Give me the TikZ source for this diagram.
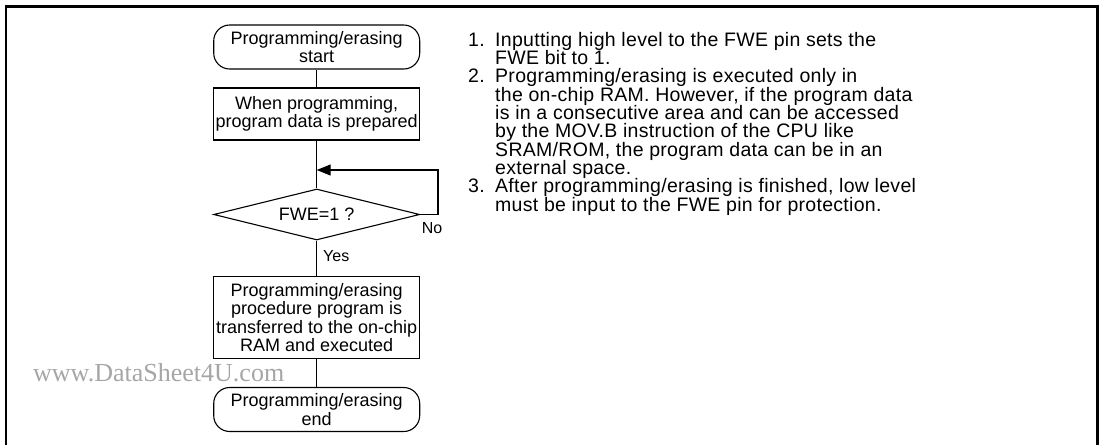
\documentclass[tikz,border=0pt]{standalone}
\usepackage{fontspec}
\setmainfont{Liberation Sans}
\newfontfamily\wmfont{Liberation Serif}
\newfontfamily\notefamily[LetterSpace=1.5]{Liberation Sans}
\usetikzlibrary{shapes.geometric,arrows.meta,positioning}

\newcommand\flowfont{\fontsize{18}{18.2}\selectfont}
\newcommand\notefont{\notefamily\fontsize{19.5}{18.3}\selectfont\lineskiplimit=-100pt}
\newcommand\itemno[1]{\makebox[27pt][l]{#1}}
\newcommand\itemgap{\hspace*{27pt}}

\begin{document}
\begin{tikzpicture}[x=1pt, y=-1pt,
    term/.style={rectangle, rounded corners=16pt, draw, line width=1.1pt, minimum width=206pt, minimum height=44pt, inner sep=0pt, align=center, font=\flowfont},
    proc/.style={rectangle, draw, line width=1.1pt, minimum width=206pt, inner sep=0pt, align=center, font=\flowfont},
    decide/.style={diamond, aspect=4, draw, line width=1.1pt, minimum width=206pt, minimum height=51pt, inner sep=0pt, font=\flowfont},
    flow/.style={line width=1.1pt},
    loopback/.style={line width=1.1pt, -{Triangle[length=14pt, width=11pt]}},
    lbl/.style={inner sep=0pt, font=\fontsize{16}{16}\selectfont},
]
\useasboundingbox (0,0) rectangle (1102,445);

% frame
\draw[line width=2.6pt] (6,445) -- (6,6.5) -- (1097.5,6.5) -- (1097.5,445);

% flowchart
\node[term] (START) at (316.7,47) {Programming/erasing\\start};
\node[proc, minimum height=52pt] (PREP) at (316.7,114) {When programming,\\program data is prepared};
\node[decide] (FWE) at (316.7,214.5) {FWE=1 ?};
\node[proc, minimum height=82pt] (EXEC) at (316.7,317.5) {Programming/erasing\\procedure program is\\transferred to the on-chip\\RAM and executed};
\node[term] (END) at (316.7,409.5) {Programming/erasing\\end};

\coordinate (MERGE) at (316.7,170);
\coordinate (TURN) at (438,214.5);

\draw[flow] (START) -- (PREP);
\draw[flow] (PREP) -- (FWE);
\draw[flow] (FWE) -- (EXEC);
\draw[flow] (EXEC) -- (END);
\draw[loopback] (FWE.east) -- (TURN) |- (MERGE);

\node[lbl] (NO) at (432,228.5) {No};
\node[lbl, anchor=west] (YES) at (323,256) {Yes};

% watermark
\node[anchor=base west, inner sep=0pt, text=black!35, font=\wmfont\fontsize{26}{26}\selectfont] (MARK) at (33,381) {www.DataSheet4U.com};

% notes
\node[anchor=north west, inner sep=0pt, align=left, font=\notefont] (NOTES) at (468,32) {%
\itemno{1.}Inputting high level to the FWE pin sets the\\
\itemgap FWE bit to 1.\\
\itemno{2.}Programming/erasing is executed only in\\
\itemgap the on-chip RAM. However, if the program data\\
\itemgap is in a consecutive area and can be accessed\\
\itemgap by the MOV.B instruction of the CPU like\\
\itemgap SRAM/ROM, the program data can be in an\\
\itemgap external space.\\
\itemno{3.}After programming/erasing is finished, low level\\
\itemgap must be input to the FWE pin for protection.};
\end{tikzpicture}
\end{document}
